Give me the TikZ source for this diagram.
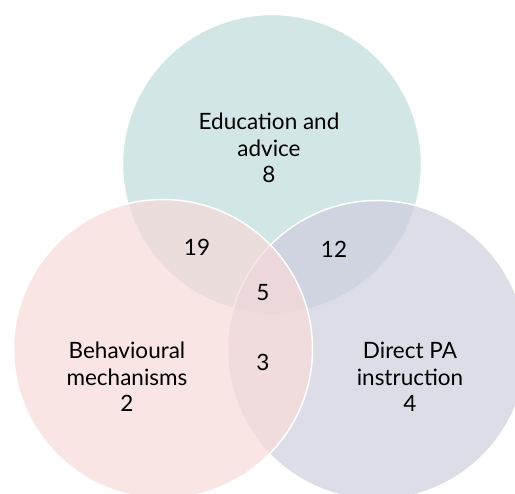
\documentclass[tikz,border=0pt]{standalone}
\usepackage{fontspec}
\setmainfont{Lato}
\definecolor{educol}{RGB}{191,219,219}
\definecolor{behcol}{RGB}{248,218,218}
\definecolor{dircol}{RGB}{206,206,222}
\tikzset{
  setcircle/.style={circle, draw=white, line width=1.5pt, fill opacity=0.7, minimum size=299pt, inner sep=0pt},
  setlabel/.style={align=center, font=\fontsize{22.5}{26.5}\selectfont, text=black}
}
\begin{document}
\begin{tikzpicture}[x=1pt,y=-1pt]
\useasboundingbox (0,0) rectangle (515,494);
\clip (0,0) rectangle (515,494);

% Circle centres
\coordinate (E) at (272,164);
\coordinate (B) at (163,349);
\coordinate (D) at (377,350);

% Draw circles
\node[setcircle, fill=educol] (edu) at (E) {};
\node[setcircle, fill=dircol] (dir) at (D) {};
\node[setcircle, fill=behcol] (beh) at (B) {};

% Set labels
\node[setlabel] (edutext) at (269,148) {Education and\\advice\\8};
\node[setlabel] (behtext) at (127,377) {Behavioural\\mechanisms\\2};
\node[setlabel] (dirtext) at (410,377) {Direct PA\\instruction\\4};

% Overlap counts
\node[setlabel] (eb) at (197,247) {19};
\node[setlabel] (ed) at (334,249) {12};
\node[setlabel] (ebd) at (263,293) {5};
\node[setlabel] (bd) at (263,362) {3};

\end{tikzpicture}
\end{document}
